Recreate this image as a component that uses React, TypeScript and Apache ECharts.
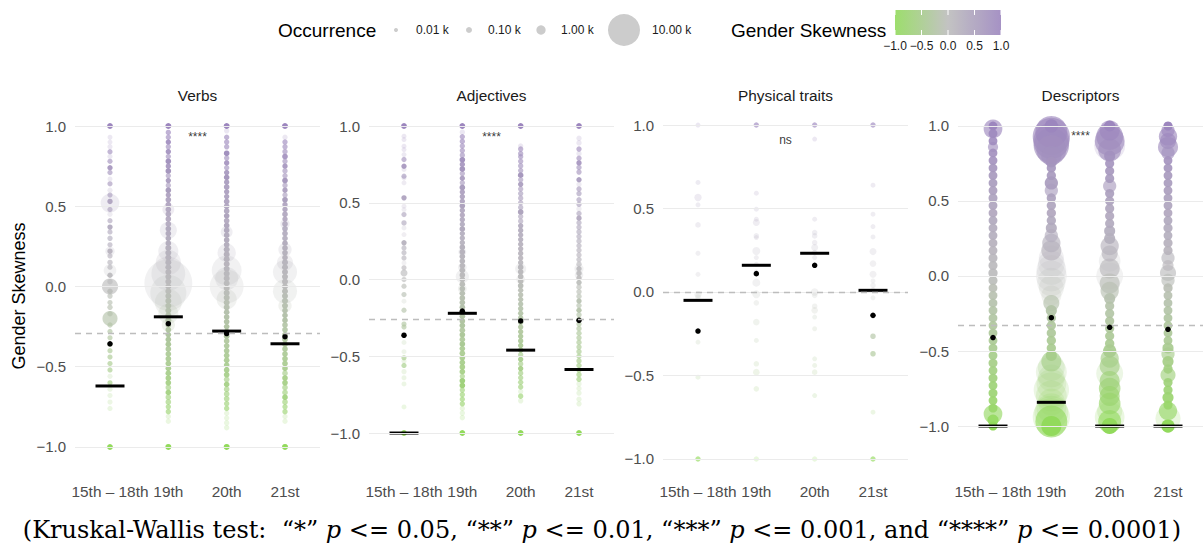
import { useEffect, useRef } from "react";
import * as echarts from "echarts";

// [gender skewness, occurrence, number of words stacked at that value]
type Pt = [number, number, number];

const periods = ["15th – 18th", "19th", "20th", "21st"];
const panelTitles = ["Verbs", "Adjectives", "Physical traits", "Descriptors"];
const yTicks = [-1, -0.5, 0, 0.5, 1];
const sizeBreaks = [10, 100, 1000, 10000];
const sizeBreakLabels = ["0.01 k", "0.10 k", "1.00 k", "10.00 k"];
const colorTicks = [-1, -0.5, 0, 0.5, 1];
const sigLabels = ["****", "****", "ns", "****"];
const sigY = [0.931, 0.928, 0.912, 0.93];
const overallMean = [-0.289, -0.26, -0.004, -0.331];

const verbsMedian = [-0.62, -0.189, -0.278, -0.357];
const verbsMean = [-0.357, -0.232, -0.293, -0.313];
const adjMedian = [-1.0, -0.22, -0.46, -0.586];
const adjMean = [-0.363, -0.206, -0.27, -0.266];
const physMedian = [-0.05, 0.16, 0.232, 0.01];
const physMean = [-0.234, 0.11, 0.16, -0.14];
const descMedian = [-1.0, -0.842, -1.0, -1.0];
const descMean = [-0.41, -0.278, -0.342, -0.355];

const verbs1518: Pt[] = [
  [1, 80, 12], [0.93, 30, 1], [0.9, 30, 1], [0.87, 40, 1], [0.84, 40, 2], [0.81, 40, 1], [0.78, 40, 2],
  [0.74, 50, 3], [0.71, 40, 2], [0.67, 30, 1], [0.64, 40, 2], [0.6, 40, 1], [0.57, 40, 2], [0.53, 50, 3],
  [0.52, 2600, 1], [0.48, 40, 2], [0.45, 40, 1], [0.41, 40, 2], [0.37, 50, 3], [0.34, 40, 2], [0.3, 50, 2],
  [0.26, 40, 2], [0.22, 1000, 1], [0.22, 50, 3], [0.19, 40, 2], [0.15, 50, 2], [0.12, 40, 2], [0.1, 1400, 1],
  [0.07, 50, 3], [0.03, 50, 2], [0.0, 2000, 2], [-0.03, 50, 3], [-0.06, 50, 2], [-0.1, 40, 2], [-0.13, 50, 2],
  [-0.17, 50, 2], [-0.2, 1800, 2], [-0.24, 50, 2], [-0.28, 40, 2], [-0.32, 40, 2], [-0.36, 40, 2], [-0.4, 40, 2],
  [-0.44, 40, 2], [-0.48, 40, 2], [-0.52, 40, 2], [-0.56, 40, 1], [-0.6, 40, 2], [-0.64, 40, 1], [-0.68, 40, 1],
  [-0.72, 40, 1], [-0.76, 40, 1], [-1, 80, 12],
];
const verbs19: Pt[] = [
  [1, 100, 14], [0.96, 50, 2], [0.93, 50, 2], [0.9, 50, 3], [0.87, 50, 2], [0.84, 50, 3], [0.81, 50, 2],
  [0.78, 70, 4], [0.75, 50, 3], [0.72, 70, 4], [0.69, 50, 2], [0.66, 50, 3], [0.63, 50, 2], [0.6, 70, 4],
  [0.57, 50, 3], [0.54, 70, 3], [0.51, 70, 3], [0.48, 1300, 1], [0.48, 70, 3], [0.45, 70, 3], [0.42, 70, 3],
  [0.39, 70, 3], [0.35, 2200, 1], [0.36, 70, 4], [0.33, 70, 4], [0.3, 70, 4], [0.27, 70, 4], [0.24, 100, 4],
  [0.22, 3000, 1], [0.21, 100, 4], [0.18, 100, 4], [0.15, 5000, 1], [0.15, 100, 5], [0.12, 100, 5], [0.09, 100, 5],
  [0.08, 12000, 1], [0.06, 100, 5], [0.03, 100, 5], [0.02, 50000, 1], [0.0, 100, 5], [-0.03, 100, 5],
  [-0.04, 15000, 1], [-0.06, 100, 5], [-0.09, 100, 5], [-0.1, 6000, 1], [-0.12, 100, 5], [-0.15, 100, 4],
  [-0.17, 3000, 1], [-0.18, 100, 4], [-0.21, 100, 4], [-0.24, 1500, 1], [-0.24, 70, 4], [-0.27, 70, 4],
  [-0.3, 70, 4], [-0.33, 70, 4], [-0.36, 70, 4], [-0.39, 70, 3], [-0.42, 70, 3], [-0.45, 70, 3], [-0.48, 70, 3],
  [-0.51, 70, 3], [-0.54, 70, 3], [-0.57, 70, 3], [-0.6, 70, 3], [-0.63, 70, 2], [-0.66, 70, 3], [-0.69, 70, 2],
  [-0.72, 70, 2], [-0.75, 50, 2], [-0.78, 50, 2], [-0.81, 50, 1], [-0.84, 50, 1], [-1, 100, 14],
];
const verbs20: Pt[] = [
  [1, 100, 14], [0.97, 50, 1], [0.93, 50, 2], [0.9, 50, 2], [0.87, 50, 2], [0.83, 70, 4], [0.8, 50, 2],
  [0.77, 50, 3], [0.74, 50, 2], [0.71, 50, 3], [0.68, 70, 4], [0.65, 50, 3], [0.62, 70, 3], [0.59, 50, 3],
  [0.56, 50, 3], [0.53, 70, 3], [0.5, 70, 3], [0.47, 70, 3], [0.44, 70, 4], [0.41, 70, 3], [0.38, 70, 4],
  [0.34, 1300, 1], [0.35, 70, 4], [0.32, 70, 4], [0.29, 70, 4], [0.26, 70, 4], [0.23, 100, 4], [0.21, 2500, 1],
  [0.2, 100, 5], [0.17, 100, 5], [0.14, 100, 5], [0.1, 8000, 1], [0.11, 100, 5], [0.08, 100, 5], [0.05, 100, 5],
  [0.05, 4000, 1], [0.02, 100, 5], [0.0, 12000, 1], [-0.01, 100, 5], [-0.04, 100, 5], [-0.07, 100, 5],
  [-0.08, 3000, 1], [-0.1, 100, 4], [-0.13, 100, 4], [-0.16, 70, 4], [-0.19, 70, 4], [-0.22, 70, 4],
  [-0.25, 70, 4], [-0.28, 70, 4], [-0.31, 70, 4], [-0.34, 70, 3], [-0.37, 70, 3], [-0.4, 70, 3], [-0.43, 70, 3],
  [-0.46, 70, 3], [-0.49, 70, 3], [-0.52, 70, 3], [-0.55, 70, 3], [-0.58, 70, 2], [-0.61, 70, 3], [-0.64, 70, 2],
  [-0.67, 70, 2], [-0.7, 70, 2], [-0.73, 50, 2], [-0.76, 50, 2], [-0.79, 50, 1], [-0.82, 50, 1], [-0.85, 50, 1],
  [-0.88, 50, 1], [-1, 100, 14],
];
const verbs21: Pt[] = [
  [1, 100, 14], [0.93, 50, 1], [0.9, 50, 2], [0.87, 50, 2], [0.84, 50, 2], [0.81, 70, 3], [0.78, 50, 2],
  [0.75, 50, 3], [0.72, 50, 2], [0.69, 50, 2], [0.66, 70, 4], [0.63, 50, 2], [0.6, 50, 3], [0.57, 50, 2],
  [0.54, 70, 4], [0.51, 50, 3], [0.48, 50, 3], [0.45, 70, 3], [0.42, 50, 3], [0.39, 1000, 1], [0.39, 70, 3],
  [0.36, 70, 3], [0.33, 70, 3], [0.3, 70, 3], [0.27, 70, 4], [0.23, 1500, 1], [0.24, 70, 4], [0.21, 70, 4],
  [0.18, 70, 4], [0.15, 2000, 1], [0.15, 100, 4], [0.12, 100, 5], [0.09, 4500, 1], [0.09, 100, 5], [0.06, 100, 5],
  [0.03, 100, 5], [0.0, 100, 5], [-0.03, 4500, 1], [-0.03, 100, 5], [-0.06, 100, 5], [-0.09, 100, 4],
  [-0.12, 1500, 1], [-0.12, 100, 4], [-0.15, 70, 4], [-0.18, 70, 4], [-0.21, 70, 4], [-0.24, 70, 3],
  [-0.27, 70, 3], [-0.3, 70, 3], [-0.33, 70, 3], [-0.36, 70, 3], [-0.39, 70, 3], [-0.42, 70, 3], [-0.45, 70, 3],
  [-0.48, 70, 3], [-0.51, 70, 3], [-0.54, 70, 2], [-0.57, 70, 3], [-0.6, 70, 3], [-0.63, 70, 2], [-0.66, 70, 2],
  [-0.69, 70, 3], [-0.72, 70, 2], [-0.75, 50, 2], [-0.78, 50, 2], [-0.81, 50, 1], [-0.84, 50, 1], [-1, 100, 14],
];

const adj1518: Pt[] = [
  [1, 80, 10], [0.934, 30, 1], [0.912, 30, 1], [0.869, 30, 1], [0.847, 30, 1], [0.814, 30, 1], [0.782, 40, 2],
  [0.738, 50, 3], [0.717, 30, 1], [0.673, 40, 2], [0.662, 30, 1], [0.63, 30, 1], [0.532, 50, 3], [0.478, 30, 1],
  [0.456, 30, 1], [0.423, 40, 2], [0.369, 50, 2], [0.336, 30, 1], [0.293, 30, 1], [0.239, 50, 3], [0.206, 40, 2],
  [0.174, 40, 2], [0.141, 40, 2], [0.108, 30, 1], [0.076, 40, 2], [0.043, 200, 2], [0.0, 40, 2], [-0.043, 40, 2],
  [-0.098, 40, 2], [-0.141, 30, 1], [-0.2, 40, 2], [-0.29, 40, 2], [-0.31, 40, 2], [-0.41, 30, 1],
  [-0.47, 30, 1], [-0.51, 40, 2], [-0.53, 40, 1], [-0.56, 40, 2], [-0.6, 40, 1], [-0.64, 30, 1], [-0.68, 30, 1],
  [-0.83, 30, 1], [-1, 80, 4],
];
const adj19: Pt[] = [
  [1, 80, 12], [0.96, 50, 1], [0.93, 50, 2], [0.9, 50, 2], [0.87, 50, 2], [0.84, 50, 2], [0.81, 50, 2],
  [0.78, 70, 4], [0.75, 50, 3], [0.72, 70, 4], [0.69, 50, 2], [0.66, 50, 3], [0.63, 50, 2], [0.6, 70, 4],
  [0.57, 50, 3], [0.54, 50, 3], [0.51, 50, 3], [0.48, 70, 4], [0.45, 50, 3], [0.42, 50, 3], [0.39, 50, 3],
  [0.36, 50, 3], [0.33, 70, 4], [0.3, 50, 3], [0.27, 50, 3], [0.24, 50, 3], [0.21, 70, 4], [0.18, 400, 1],
  [0.18, 70, 4], [0.15, 70, 4], [0.12, 70, 4], [0.09, 70, 4], [0.08, 600, 1], [0.06, 70, 5], [0.03, 70, 5],
  [0.02, 1500, 1], [0.0, 70, 5], [-0.03, 70, 5], [-0.06, 700, 1], [-0.06, 70, 5], [-0.09, 70, 4],
  [-0.12, 70, 4], [-0.15, 70, 4], [-0.18, 70, 4], [-0.21, 70, 4], [-0.24, 70, 4], [-0.27, 70, 4], [-0.3, 70, 4],
  [-0.33, 70, 3], [-0.36, 70, 4], [-0.39, 70, 3], [-0.42, 70, 4], [-0.45, 70, 3], [-0.48, 70, 3], [-0.51, 70, 3],
  [-0.54, 70, 3], [-0.57, 70, 3], [-0.6, 70, 3], [-0.63, 50, 2], [-0.66, 70, 4], [-0.69, 70, 4], [-0.72, 50, 2],
  [-0.75, 50, 2], [-0.78, 50, 2], [-0.81, 50, 2], [-0.84, 50, 1], [-0.87, 50, 1], [-0.9, 50, 1], [-1, 80, 12],
];
const adj20: Pt[] = [
  [1, 80, 12], [0.87, 50, 1], [0.85, 50, 2], [0.82, 50, 2], [0.8, 50, 2], [0.77, 50, 2], [0.74, 50, 2],
  [0.71, 50, 2], [0.68, 70, 4], [0.65, 50, 2], [0.62, 50, 3], [0.59, 50, 2], [0.56, 50, 2], [0.53, 50, 2],
  [0.5, 50, 2], [0.47, 50, 2], [0.44, 70, 4], [0.41, 50, 2], [0.38, 50, 2], [0.35, 50, 3], [0.32, 50, 3],
  [0.29, 50, 3], [0.26, 50, 3], [0.23, 50, 3], [0.2, 50, 3], [0.17, 50, 3], [0.14, 50, 3], [0.11, 50, 3],
  [0.07, 1200, 1], [0.08, 70, 4], [0.05, 70, 4], [0.02, 70, 4], [0.0, 700, 1], [-0.01, 70, 4], [-0.04, 70, 4],
  [-0.07, 50, 3], [-0.1, 50, 3], [-0.13, 50, 3], [-0.16, 50, 3], [-0.19, 50, 3], [-0.22, 50, 3], [-0.25, 50, 3],
  [-0.28, 50, 3], [-0.31, 50, 3], [-0.34, 50, 3], [-0.37, 50, 3], [-0.4, 50, 3], [-0.43, 50, 3], [-0.46, 50, 3],
  [-0.49, 50, 2], [-0.52, 50, 3], [-0.55, 50, 2], [-0.58, 50, 3], [-0.61, 50, 2], [-0.64, 50, 2], [-0.67, 50, 2],
  [-0.7, 50, 2], [-0.73, 50, 1], [-0.76, 50, 2], [-0.79, 50, 1], [-1, 80, 12],
];
const adj21: Pt[] = [
  [1, 80, 12], [0.92, 50, 1], [0.89, 50, 1], [0.85, 50, 2], [0.82, 50, 1], [0.79, 50, 2], [0.76, 50, 3],
  [0.73, 50, 2], [0.7, 50, 2], [0.65, 50, 3], [0.62, 50, 1], [0.59, 50, 2], [0.56, 50, 2], [0.52, 50, 2],
  [0.49, 50, 2], [0.46, 50, 1], [0.43, 50, 2], [0.4, 50, 3], [0.37, 50, 2], [0.34, 50, 2], [0.31, 50, 2],
  [0.28, 50, 2], [0.25, 50, 2], [0.22, 50, 2], [0.19, 50, 2], [0.16, 50, 2], [0.13, 50, 2], [0.1, 50, 2],
  [0.07, 900, 1], [0.07, 50, 3], [0.03, 600, 1], [0.04, 50, 3], [0.01, 50, 3], [-0.02, 50, 3], [-0.05, 50, 2],
  [-0.08, 50, 2], [-0.11, 50, 2], [-0.14, 50, 3], [-0.17, 50, 2], [-0.2, 50, 3], [-0.23, 50, 2], [-0.26, 50, 2],
  [-0.29, 50, 2], [-0.32, 50, 2], [-0.35, 50, 2], [-0.38, 50, 2], [-0.41, 50, 2], [-0.44, 50, 2], [-0.47, 50, 2],
  [-0.5, 50, 2], [-0.53, 50, 2], [-0.56, 50, 2], [-0.59, 50, 2], [-0.62, 50, 2], [-0.65, 50, 2], [-0.68, 50, 1],
  [-0.71, 50, 1], [-0.74, 50, 1], [-0.78, 50, 1], [-0.81, 50, 1], [-1, 80, 12],
];

const phys1518: Pt[] = [
  [1, 30, 1], [0.656, 30, 1], [0.566, 250, 1], [0.522, 30, 1], [0.402, 60, 1], [0.232, 30, 1], [0.106, 30, 1],
  [-0.014, 250, 1], [-0.03, 60, 1], [-0.3, 30, 1], [-0.51, 30, 1], [-1, 50, 2],
];
const phys19: Pt[] = [
  [1, 50, 2], [0.592, 30, 1], [0.496, 30, 1], [0.436, 30, 1], [0.416, 200, 1], [0.336, 60, 1], [0.326, 30, 1],
  [0.246, 400, 1], [0.206, 30, 1], [0.166, 30, 1], [0.12, 30, 1], [0.056, 400, 1], [-0.014, 400, 1],
  [-0.065, 60, 1], [-0.18, 150, 1], [-0.29, 30, 1], [-0.43, 60, 1], [-0.48, 150, 1], [-0.58, 60, 1], [-1, 50, 1],
];
const phys20: Pt[] = [
  [1, 50, 2], [0.916, 30, 1], [0.436, 30, 1], [0.356, 60, 1], [0.336, 60, 1], [0.296, 60, 1], [0.266, 200, 1],
  [0.236, 60, 1], [0.206, 30, 1], [0.0, 300, 1], [-0.02, 60, 1], [-0.085, 60, 1], [-0.11, 150, 1],
  [-0.15, 30, 1], [-0.22, 30, 1], [-0.4, 30, 1], [-0.44, 30, 1], [-0.48, 60, 1], [-0.62, 30, 1], [-1, 50, 1],
];
const phys21: Pt[] = [
  [1, 50, 2], [0.64, 30, 1], [0.466, 30, 1], [0.392, 30, 1], [0.33, 30, 1], [0.242, 200, 1], [0.17, 150, 1],
  [0.106, 200, 1], [0.066, 30, 1], [0.04, 60, 1], [0.01, 60, 1], [-0.035, 30, 1], [-0.265, 60, 2],
  [-0.37, 60, 2], [-0.72, 30, 1], [-1, 50, 2],
];

const desc1518: Pt[] = [
  [1, 700, 6], [0.98, 2600, 2], [0.95, 700, 3], [0.9, 700, 3], [0.86, 1100, 2], [0.82, 700, 3], [0.77, 700, 3],
  [0.72, 700, 3], [0.67, 700, 3], [0.62, 700, 3], [0.57, 700, 3], [0.52, 800, 3], [0.47, 700, 3], [0.42, 700, 3],
  [0.37, 700, 3], [0.32, 700, 3], [0.27, 700, 3], [0.22, 700, 3], [0.17, 700, 3], [0.12, 800, 3], [0.07, 800, 3],
  [0.02, 1000, 3], [-0.03, 800, 3], [-0.08, 700, 3], [-0.13, 700, 3], [-0.18, 700, 3], [-0.23, 700, 3],
  [-0.28, 700, 3], [-0.33, 700, 3], [-0.38, 700, 3], [-0.43, 700, 3], [-0.48, 700, 3], [-0.53, 700, 3],
  [-0.58, 800, 3], [-0.63, 700, 3], [-0.68, 800, 3], [-0.73, 700, 3], [-0.78, 800, 3], [-0.83, 700, 3],
  [-0.88, 800, 3], [-0.92, 2600, 2], [-0.96, 1200, 3], [-1, 900, 8],
];
const desc19: Pt[] = [
  [1, 1500, 6], [0.96, 10000, 2], [0.93, 17000, 2], [0.9, 15000, 2], [0.87, 14000, 2], [0.84, 8000, 2],
  [0.8, 3000, 2], [0.76, 1200, 3], [0.72, 1000, 3], [0.67, 1000, 3], [0.62, 1500, 3], [0.57, 1500, 2],
  [0.52, 1000, 3], [0.47, 1000, 3], [0.42, 1000, 3], [0.37, 1000, 3], [0.32, 1200, 3], [0.27, 1500, 2],
  [0.22, 2500, 2], [0.17, 3000, 2], [0.12, 5000, 1], [0.08, 6000, 1], [0.04, 8000, 1], [0.0, 9000, 1],
  [-0.04, 7000, 1], [-0.08, 5000, 1], [-0.13, 3000, 1], [-0.18, 2000, 2], [-0.23, 1200, 3], [-0.28, 1000, 3],
  [-0.33, 1000, 3], [-0.38, 1000, 3], [-0.43, 1000, 3], [-0.48, 1000, 3], [-0.53, 1200, 3], [-0.57, 3000, 2],
  [-0.61, 6000, 1], [-0.64, 9000, 1], [-0.68, 6000, 1], [-0.72, 8000, 1], [-0.76, 14000, 1], [-0.8, 9000, 1],
  [-0.84, 6000, 1], [-0.88, 8000, 1], [-0.91, 12000, 1], [-0.94, 17000, 1], [-0.97, 10000, 2], [-1, 3000, 6],
];
const desc20: Pt[] = [
  [1, 1200, 6], [0.97, 3000, 2], [0.93, 6000, 2], [0.9, 8000, 2], [0.87, 9000, 1], [0.84, 4000, 2],
  [0.8, 1200, 3], [0.75, 900, 3], [0.7, 900, 3], [0.65, 900, 3], [0.6, 1500, 2], [0.55, 900, 3], [0.5, 900, 3],
  [0.45, 900, 3], [0.4, 900, 3], [0.35, 900, 3], [0.3, 1200, 3], [0.25, 1200, 3], [0.2, 2500, 2], [0.15, 2000, 2],
  [0.1, 3500, 1], [0.05, 3000, 2], [0.0, 6000, 1], [-0.05, 3000, 2], [-0.1, 2500, 2], [-0.15, 1200, 3],
  [-0.2, 900, 3], [-0.25, 900, 3], [-0.3, 900, 3], [-0.35, 900, 3], [-0.4, 900, 3], [-0.45, 1000, 3],
  [-0.5, 1500, 3], [-0.55, 2500, 2], [-0.6, 3000, 2], [-0.65, 6000, 1], [-0.7, 3000, 2], [-0.75, 3500, 2],
  [-0.8, 3000, 2], [-0.85, 3500, 2], [-0.9, 5000, 1], [-0.94, 8000, 1], [-0.97, 4000, 2], [-1, 2000, 6],
];
const desc21: Pt[] = [
  [1, 900, 6], [0.97, 1500, 2], [0.93, 2500, 2], [0.9, 2000, 2], [0.86, 3000, 2], [0.82, 1500, 2],
  [0.77, 700, 3], [0.72, 700, 3], [0.67, 700, 3], [0.62, 700, 3], [0.57, 700, 3], [0.52, 700, 3], [0.47, 700, 3],
  [0.42, 700, 3], [0.37, 700, 3], [0.32, 900, 3], [0.27, 700, 3], [0.22, 900, 3], [0.17, 900, 3], [0.12, 1500, 2],
  [0.07, 1200, 2], [0.02, 2000, 2], [-0.03, 1500, 2], [-0.08, 1000, 3], [-0.13, 700, 3], [-0.18, 700, 3],
  [-0.23, 700, 3], [-0.28, 700, 3], [-0.33, 700, 3], [-0.38, 700, 3], [-0.43, 700, 3], [-0.48, 1200, 3],
  [-0.52, 1500, 2], [-0.57, 1200, 3], [-0.62, 1000, 3], [-0.66, 1800, 2], [-0.71, 900, 3], [-0.76, 900, 3],
  [-0.81, 1200, 3], [-0.86, 900, 3], [-0.9, 2500, 2], [-0.95, 5000, 1], [-1, 1500, 6],
];

const panelPoints: Pt[][][] = [
  [verbs1518, verbs19, verbs20, verbs21],
  [adj1518, adj19, adj20, adj21],
  [phys1518, phys19, phys20, phys21],
  [desc1518, desc19, desc20, desc21],
];
const panelMedians = [verbsMedian, adjMedian, physMedian, descMedian];
const panelMeans = [verbsMean, adjMean, physMean, descMean];

// ---- layout / style (not data) ----
const FONT = "'Liberation Sans', Arial, Helvetica, sans-serif";
const SERIF = "'DejaVu Serif', 'Liberation Serif', serif";
const GRID_TOP = 109;
const GRID_H = 367;
const GRID_W = 245;
const panelLayout = [
  { left: 75, min: -1.181, max: 1.106 },
  { left: 369, min: -1.28, max: 1.111 },
  { left: 663, min: -1.102, max: 1.096 },
  { left: 958, min: -1.333, max: 1.113 },
];

const LOW = [146, 218, 92];
const MID = [188, 188, 188];
const HIGH = [156, 134, 190];

function mix(a: number[], b: number[], t: number) {
  return a.map((v, i) => Math.round(v + (b[i] - v) * t));
}
function rgbFor(s: number) {
  return s < 0 ? mix(MID, LOW, Math.min(1, -s)) : mix(MID, HIGH, Math.min(1, s));
}
function colorFor(s: number, alpha: number) {
  const c = rgbFor(s);
  return `rgba(${c[0]},${c[1]},${c[2]},${alpha.toFixed(3)})`;
}
// each point is drawn with alpha 0.2; a stack of n words overlaps (and swarms) into a denser dot
function alphaFor(n: number) {
  return 1 - Math.pow(0.8, 1.2 * n * n - 0.2);
}
const sizeStops = [
  [1, 4],
  [2, 6],
  [3, 9.3],
  [4, 32],
];
function sizeFor(occ: number) {
  const lg = Math.log10(occ);
  if (lg <= 1) return Math.max(2.5, 4 + (lg - 1) * 2);
  if (lg >= 4) return 32 + (lg - 4) * 22.7;
  for (let i = 0; i < 3; i++) {
    if (lg <= sizeStops[i + 1][0]) {
      const t = lg - sizeStops[i][0];
      return sizeStops[i][1] + t * (sizeStops[i + 1][1] - sizeStops[i][1]);
    }
  }
  return 32;
}
function fmtTick(v: number) {
  return v.toFixed(1).replace("-", "\u2212");
}

function buildOption() {
  const grid = panelLayout.map((p) => ({ left: p.left, top: GRID_TOP, width: GRID_W, height: GRID_H }));
  const xAxis = panelLayout.map((_, i) => ({
    type: "value",
    gridIndex: i,
    min: -0.6,
    max: 3.6,
    axisLine: { show: false },
    axisTick: { show: false },
    splitLine: { show: false },
    axisLabel: {
      customValues: [0, 1, 2, 3],
      formatter: (v: number) => periods[Math.round(v)],
      color: "#4D4D4D",
      fontSize: 15.4,
      fontFamily: FONT,
      margin: 8,
    },
  }));
  const yAxis = panelLayout.map((p, i) => ({
    type: "value",
    gridIndex: i,
    min: p.min,
    max: p.max,
    axisLine: { show: false },
    axisTick: { show: false },
    splitLine: { show: false },
    axisLabel: {
      customValues: yTicks,
      formatter: (v: number) => fmtTick(v),
      color: "#4D4D4D",
      fontSize: 15,
      fontFamily: FONT,
      margin: 9,
    },
  }));

  const series: any[] = [];
  panelLayout.forEach((_, i) => {
    series.push({
      type: "line",
      xAxisIndex: i,
      yAxisIndex: i,
      data: [],
      silent: true,
      z: 1,
      markLine: {
        silent: true,
        symbol: ["none", "none"],
        label: { show: false },
        animation: false,
        data: [
          ...yTicks.map((v) => ({ yAxis: v, lineStyle: { color: "#EBEBEB", width: 1.2, type: "solid", opacity: 1 } })),
          { yAxis: overallMean[i], lineStyle: { color: "#BDBDBD", width: 1.3, type: [6, 5], opacity: 1 } },
        ],
      },
    });
    const items: any[] = [];
    panelPoints[i].forEach((col, j) => {
      col.forEach(([s, occ, n]) => {
        items.push({
          value: [j, s, occ],
          symbolSize: sizeFor(occ),
          itemStyle: { color: colorFor(s, alphaFor(n)), opacity: 1 },
        });
      });
    });
    items.sort((a, b) => b.value[2] - a.value[2]);
    series.push({
      type: "scatter",
      xAxisIndex: i,
      yAxisIndex: i,
      silent: true,
      z: 2,
      symbol: "circle",
      itemStyle: { opacity: 1 },
      data: items,
    });
    series.push({
      type: "scatter",
      xAxisIndex: i,
      yAxisIndex: i,
      silent: true,
      z: 3,
      symbol: "rect",
      symbolSize: [29, 3],
      itemStyle: { color: "#000", opacity: 1 },
      data: panelMedians[i].map((m, j) => [j, m]),
    });
    series.push({
      type: "scatter",
      xAxisIndex: i,
      yAxisIndex: i,
      silent: true,
      z: 4,
      symbol: "circle",
      symbolSize: 5.5,
      itemStyle: { color: "#000", opacity: 1 },
      data: panelMeans[i].map((m, j) => [j, m]),
    });
    series.push({
      type: "scatter",
      xAxisIndex: i,
      yAxisIndex: i,
      silent: true,
      z: 5,
      symbolSize: 1,
      itemStyle: { color: "rgba(0,0,0,0)" },
      label: {
        show: true,
        position: "inside",
        formatter: sigLabels[i],
        fontSize: 12,
        color: "#000",
        fontFamily: FONT,
      },
      data: [[1.5, sigY[i]]],
    });
  });

  const graphics: any[] = [];
  panelLayout.forEach((p, i) => {
    graphics.push({
      type: "text",
      x: p.left + GRID_W / 2,
      y: 95,
      style: {
        text: panelTitles[i],
        align: "center",
        verticalAlign: "middle",
        fontSize: 15.4,
        fontFamily: FONT,
        fill: "#1A1A1A",
      },
    });
  });
  graphics.push({
    type: "text",
    x: 19,
    y: 296,
    rotation: Math.PI / 2,
    style: {
      text: "Gender Skewness",
      align: "center",
      verticalAlign: "middle",
      fontSize: 18,
      fontFamily: FONT,
      fill: "#000",
    },
  });
  graphics.push({
    type: "text",
    x: 278,
    y: 30,
    style: { text: "Occurrence", align: "left", verticalAlign: "middle", fontSize: 19, fontFamily: FONT, fill: "#000" },
  });
  const keyX = [396, 469, 541, 624];
  const labX = [416, 488, 561, 652];
  sizeBreaks.forEach((b, k) => {
    graphics.push({
      type: "circle",
      shape: { cx: keyX[k], cy: 30, r: sizeFor(b) / 2 },
      style: { fill: "#CCCCCC" },
    });
    graphics.push({
      type: "text",
      x: labX[k],
      y: 30,
      style: {
        text: sizeBreakLabels[k],
        align: "left",
        verticalAlign: "middle",
        fontSize: 12,
        fontFamily: FONT,
        fill: "#1A1A1A",
      },
    });
  });
  graphics.push({
    type: "text",
    x: 731,
    y: 30,
    style: { text: "Gender Skewness", align: "left", verticalAlign: "middle", fontSize: 19, fontFamily: FONT, fill: "#000" },
  });
  const barX = 895;
  const barY = 10;
  const barW = 106;
  const barH = 25;
  const stops: any[] = [];
  for (let k = 0; k <= 20; k++) {
    const s = -1 + k / 10;
    stops.push({ offset: k / 20, color: colorFor(s, 0.9) });
  }
  graphics.push({
    type: "rect",
    shape: { x: barX, y: barY, width: barW, height: barH },
    style: { fill: { type: "linear", x: 0, y: 0, x2: 1, y2: 0, colorStops: stops } },
  });
  colorTicks.forEach((v) => {
    const tx = barX + ((v + 1) / 2) * barW;
    graphics.push({
      type: "line",
      shape: { x1: tx, y1: barY, x2: tx, y2: barY + 5 },
      style: { stroke: "#fff", lineWidth: 1 },
    });
    graphics.push({
      type: "line",
      shape: { x1: tx, y1: barY + barH - 5, x2: tx, y2: barY + barH },
      style: { stroke: "#fff", lineWidth: 1 },
    });
    graphics.push({
      type: "text",
      x: tx,
      y: 46,
      style: {
        text: fmtTick(v),
        align: "center",
        verticalAlign: "middle",
        fontSize: 12,
        fontFamily: FONT,
        fill: "#1A1A1A",
      },
    });
  });
  graphics.push({
    type: "text",
    x: 602,
    y: 530,
    style: {
      text:
        "(Kruskal-Wallis test:  \u201c*\u201d {i|p} <= 0.05, \u201c**\u201d {i|p} <= 0.01, \u201c***\u201d {i|p} <= 0.001, and \u201c****\u201d {i|p} <= 0.0001)",
      align: "center",
      verticalAlign: "middle",
      fontSize: 24,
      fontFamily: SERIF,
      fill: "#000",
      rich: {
        i: { fontStyle: "italic", fontSize: 24, fontFamily: SERIF },
      },
    },
  });

  return {
    animation: false,
    backgroundColor: "#fff",
    grid,
    xAxis,
    yAxis,
    series,
    graphic: { elements: graphics },
  };
}

export default function App() {
  const ref = useRef<HTMLDivElement>(null);
  useEffect(() => {
    document.body.style.margin = "0";
    const chart = echarts.init(ref.current!, null, { renderer: "svg" });
    chart.setOption(buildOption() as any);
    return () => chart.dispose();
  }, []);
  return <div ref={ref} style={{ width: 1203, height: 549 }} />;
}
